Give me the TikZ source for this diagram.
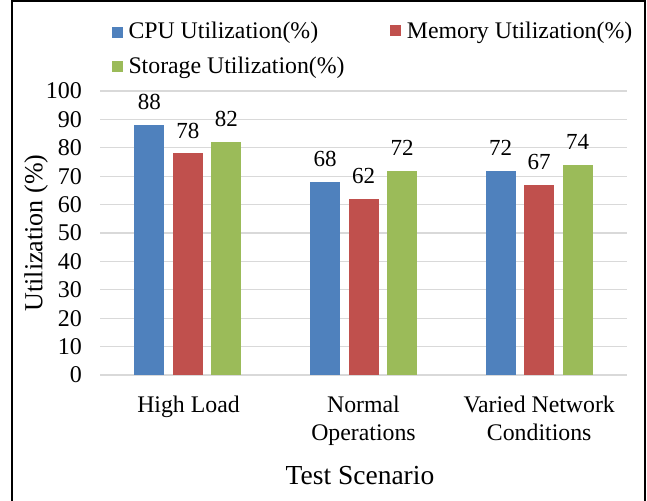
\documentclass[tikz,border=0pt]{standalone}
\usepackage{fontspec}
\setmainfont{Liberation Serif}
\definecolor{cpucol}{HTML}{4F81BD}
\definecolor{memcol}{HTML}{C0504D}
\definecolor{stocol}{HTML}{9BBB59}
\definecolor{gridcol}{HTML}{D9D9D9}
\begin{document}
\begin{tikzpicture}[x=1pt,y=-1pt,
  frameline/.style={draw=black,line width=1.5pt},
  gridline/.style={draw=gridcol,line width=1.3pt},
  ticklab/.style={anchor=east,inner sep=0pt,font=\fontsize{24}{28}\selectfont},
  vallab/.style={anchor=center,inner sep=0pt,font=\fontsize{23}{27}\selectfont},
  catlab/.style={anchor=base,inner sep=0pt,font=\fontsize{23.8}{28}\selectfont},
  leglab/.style={anchor=base west,inner sep=0pt,font=\fontsize{23.8}{28}\selectfont},
  axtitle/.style={anchor=center,inner sep=0pt,font=\fontsize{27.5}{32}\selectfont},
  legbox/.style={minimum size=11pt,inner sep=0pt,anchor=center}]
\useasboundingbox (0,0) rectangle (647,500);
\draw[frameline] (12,503) -- (12,1) -- (645,1) -- (645,503);
% gridlines and tick labels
\foreach \v in {0,...,10}{
  \pgfmathsetmacro\gy{375-28.4*\v}
  \draw[gridline] (100,\gy) -- (627,\gy);
  \pgfmathtruncatemacro\lab{10*\v}
  \node[ticklab] (tick\v) at (82,\gy) {\lab};
}
% bars
\foreach \i/\a/\b/\c in {0/88/78/82,1/68/62/72,2/72/67/74}{
  \pgfmathsetmacro\cx{187.8+175.7*\i}
  \pgfmathsetmacro\ta{375-2.84*\a}
  \pgfmathsetmacro\tb{375-2.84*\b}
  \pgfmathsetmacro\tc{375-2.84*\c}
  \fill[cpucol] (\cx-53.5,375) rectangle (\cx-23.5,\ta);
  \fill[memcol] (\cx-15,375) rectangle (\cx+15,\tb);
  \fill[stocol] (\cx+23.5,375) rectangle (\cx+53.5,\tc);
  \node[vallab] (va\i) at (\cx-38.5,\ta-23) {\a};
  \node[vallab] (vb\i) at (\cx,\tb-23) {\b};
  \node[vallab] (vc\i) at (\cx+38.5,\tc-23) {\c};
}
% category labels
\node[catlab] (cat1) at (188.5,412) {High Load};
\node[catlab] (cat2a) at (363.5,412) {Normal};
\node[catlab] (cat2b) at (363.5,440) {Operations};
\node[catlab] (cat3a) at (539.2,412) {Varied Network};
\node[catlab] (cat3b) at (539.2,440) {Conditions};
% axis titles
\node[axtitle,anchor=base] (xtitle) at (360,484) {Test Scenario};
\node[axtitle,rotate=90,font=\fontsize{26}{30}\selectfont] (ytitle) at (36,233) {Utilization (\%)};
% legend
\node[legbox,fill=cpucol] (lgA) at (117.2,32.2) {};
\node[leglab] (lgAt) at (128.3,38.3) {CPU Utilization(\%)};
\node[legbox,fill=memcol] (lgB) at (395,31) {};
\node[leglab] (lgBt) at (406.7,38.3) {Memory Utilization(\%)};
\node[legbox,fill=stocol] (lgC) at (117.2,67) {};
\node[leglab] (lgCt) at (128.3,73.3) {Storage Utilization(\%)};
\end{tikzpicture}
\end{document}
